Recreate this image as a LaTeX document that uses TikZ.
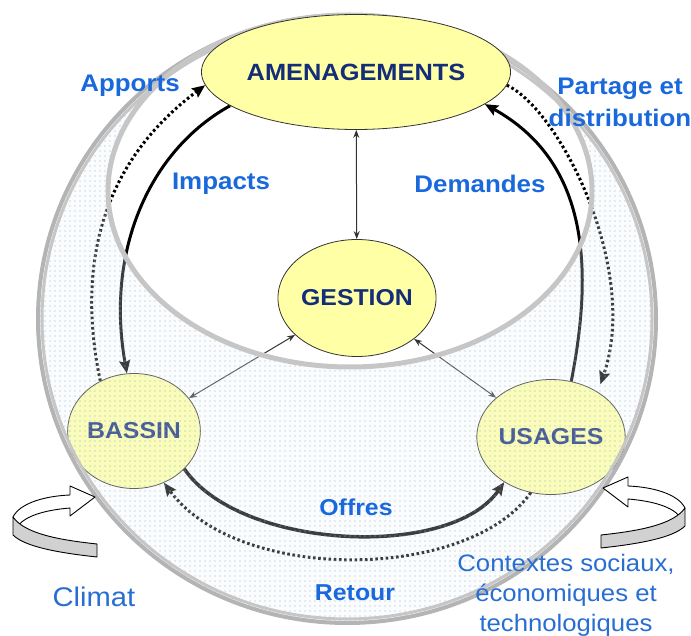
\documentclass[tikz,border=0pt]{standalone}
\usepackage{fontspec}
\setmainfont{Liberation Sans}[FakeStretch=1.08]
\definecolor{pale}{RGB}{255,255,165}
\definecolor{navy1}{RGB}{20,45,120}
\definecolor{lblue}{RGB}{25,105,220}
\definecolor{cblue}{RGB}{40,110,210}
\definecolor{ringgray}{RGB}{180,180,180}
\definecolor{ringin}{RGB}{198,198,198}
\definecolor{dotc}{RGB}{150,178,195}
\definecolor{haze}{RGB}{238,244,250}
\usetikzlibrary{shapes.geometric, arrows.meta, patterns.meta}
\pgfdeclarelayer{ring}
\pgfdeclarelayer{top}
\pgfsetlayers{main,ring,top}

\begin{document}
\begin{tikzpicture}[x=1pt, y=1pt,
  nd/.style={draw=black!80, fill=pale, ellipse, line width=0.8pt, inner sep=0pt, text=navy1, font=\fontsize{23}{27}\selectfont\bfseries},
  lbl/.style={text=lblue, font=\fontsize{24}{32}\selectfont\bfseries, align=center},
  ctx/.style={text=cblue, font=\fontsize{23.8}{30}\selectfont, align=center},
  arr/.style={-{Stealth[length=13pt, width=11pt, inset=2pt]}, line width=3pt},
  dotarr/.style={arr, dash pattern=on 2.6pt off 2.6pt},
  duo/.style={<->, >={Stealth[length=8pt, width=6pt]}, line width=1pt, draw=black!80},
  band/.style={draw=black, line width=0.9pt, line join=round},
]
  \useasboundingbox (0,0) rectangle (691,-636);

  \begin{pgfonlayer}{top}
    \node[nd, minimum width=286pt, minimum height=115pt, font=\fontsize{23.5}{27}\selectfont\bfseries] (amen) at (356,-72) {AMENAGEMENTS};
  \end{pgfonlayer}
  \node[nd, minimum width=126pt, minimum height=117pt] (gest) at (357,-298) {GESTION};
  \node[nd, minimum width=125pt, minimum height=115pt] (bass) at (134,-431) {BASSIN};
  \node[nd, minimum width=127pt, minimum height=115pt] (usag) at (551,-437) {USAGES};

  \draw[duo] (gest) -- (amen);
  \draw[duo] (gest) -- (bass);
  \draw[duo] (gest) -- (usag);

  \draw[arr] (amen.195) .. controls (150,-150) and (105,-250) .. (bass.97);
  \draw[dotarr] (bass.124) .. controls (75,-260) and (105,-160) .. (amen.185);
  \draw[dotarr, shorten >=8pt] (amen.355) .. controls (560,-110) and (640,-270) .. (usag.44);
  \draw[arr] (usag.70) .. controls (595,-260) and (585,-160) .. (amen.346);
  \draw[arr, line width=3.5pt] (bass.323) .. controls (240,-550) and (450,-560) .. (usag.224);
  \draw[dotarr] (usag.250) .. controls (470,-580) and (240,-585) .. (bass.300);

  \begin{pgfonlayer}{ring}
    \fill[haze, fill opacity=0.25, even odd rule] (347,-319) ellipse [x radius=309, y radius=304] (350,-191) ellipse [x radius=242, y radius=176];
    \fill[pattern={Dots[distance=5pt, radius=0.6pt]}, pattern color=dotc, even odd rule] (347,-319) ellipse [x radius=309, y radius=304] (350,-191) ellipse [x radius=242, y radius=176];
    \draw[ringin, line width=3pt] (347,-319) ellipse [x radius=305, y radius=300];
    \draw[ringgray, line width=4pt] (347,-319) ellipse [x radius=309, y radius=304];
    \draw[ringin, line width=5pt] (350,-191) ellipse [x radius=242, y radius=176];
  \end{pgfonlayer}

  \begin{pgfonlayer}{top}
    \node[lbl, anchor=base] (apports) at (130,-92) {Apports};
    \node[lbl, anchor=base] (impacts) at (221,-190) {Impacts};
    \node[lbl, anchor=base] (demandes) at (480,-193) {Demandes};
    \node[lbl] (partage) at (620,-102) {Partage et\\distribution};
    \node[lbl, anchor=base, font=\fontsize{23}{27}\selectfont\bfseries] (offres) at (356,-515) {Offres};
    \node[lbl, anchor=base, font=\fontsize{23}{27}\selectfont\bfseries] (retour) at (355,-600) {Retour};
    \node[ctx, anchor=base, font=\fontsize{27}{32}\selectfont] (climat) at (94,-606) {Climat};
    \node[ctx] (contextes) at (566,-595) {Contextes sociaux,\\économiques et\\technologiques};

    \filldraw[band, fill=white] (13,-517) .. controls (20,-503) and (45,-496) .. (70,-495) -- (70,-486) -- (95,-497) -- (70,-516) -- (70,-508) .. controls (45,-510) and (25,-516) .. (18,-526) -- cycle;
    \filldraw[band, fill=black!18] (13,-517) -- (13,-535) .. controls (25,-547) and (60,-553) .. (97,-557) -- (97,-544) .. controls (60,-540) and (25,-534) .. (13,-517) -- cycle;
    \begin{scope}[shift={(698,9)}, xscale=-1]
      \filldraw[band, fill=white] (13,-517) .. controls (20,-503) and (45,-496) .. (70,-495) -- (70,-486) -- (95,-497) -- (70,-516) -- (70,-508) .. controls (45,-510) and (25,-516) .. (18,-526) -- cycle;
      \filldraw[band, fill=black!18] (13,-517) -- (13,-535) .. controls (25,-547) and (60,-553) .. (97,-557) -- (97,-544) .. controls (60,-540) and (25,-534) .. (13,-517) -- cycle;
    \end{scope}
  \end{pgfonlayer}
\end{tikzpicture}
\end{document}
